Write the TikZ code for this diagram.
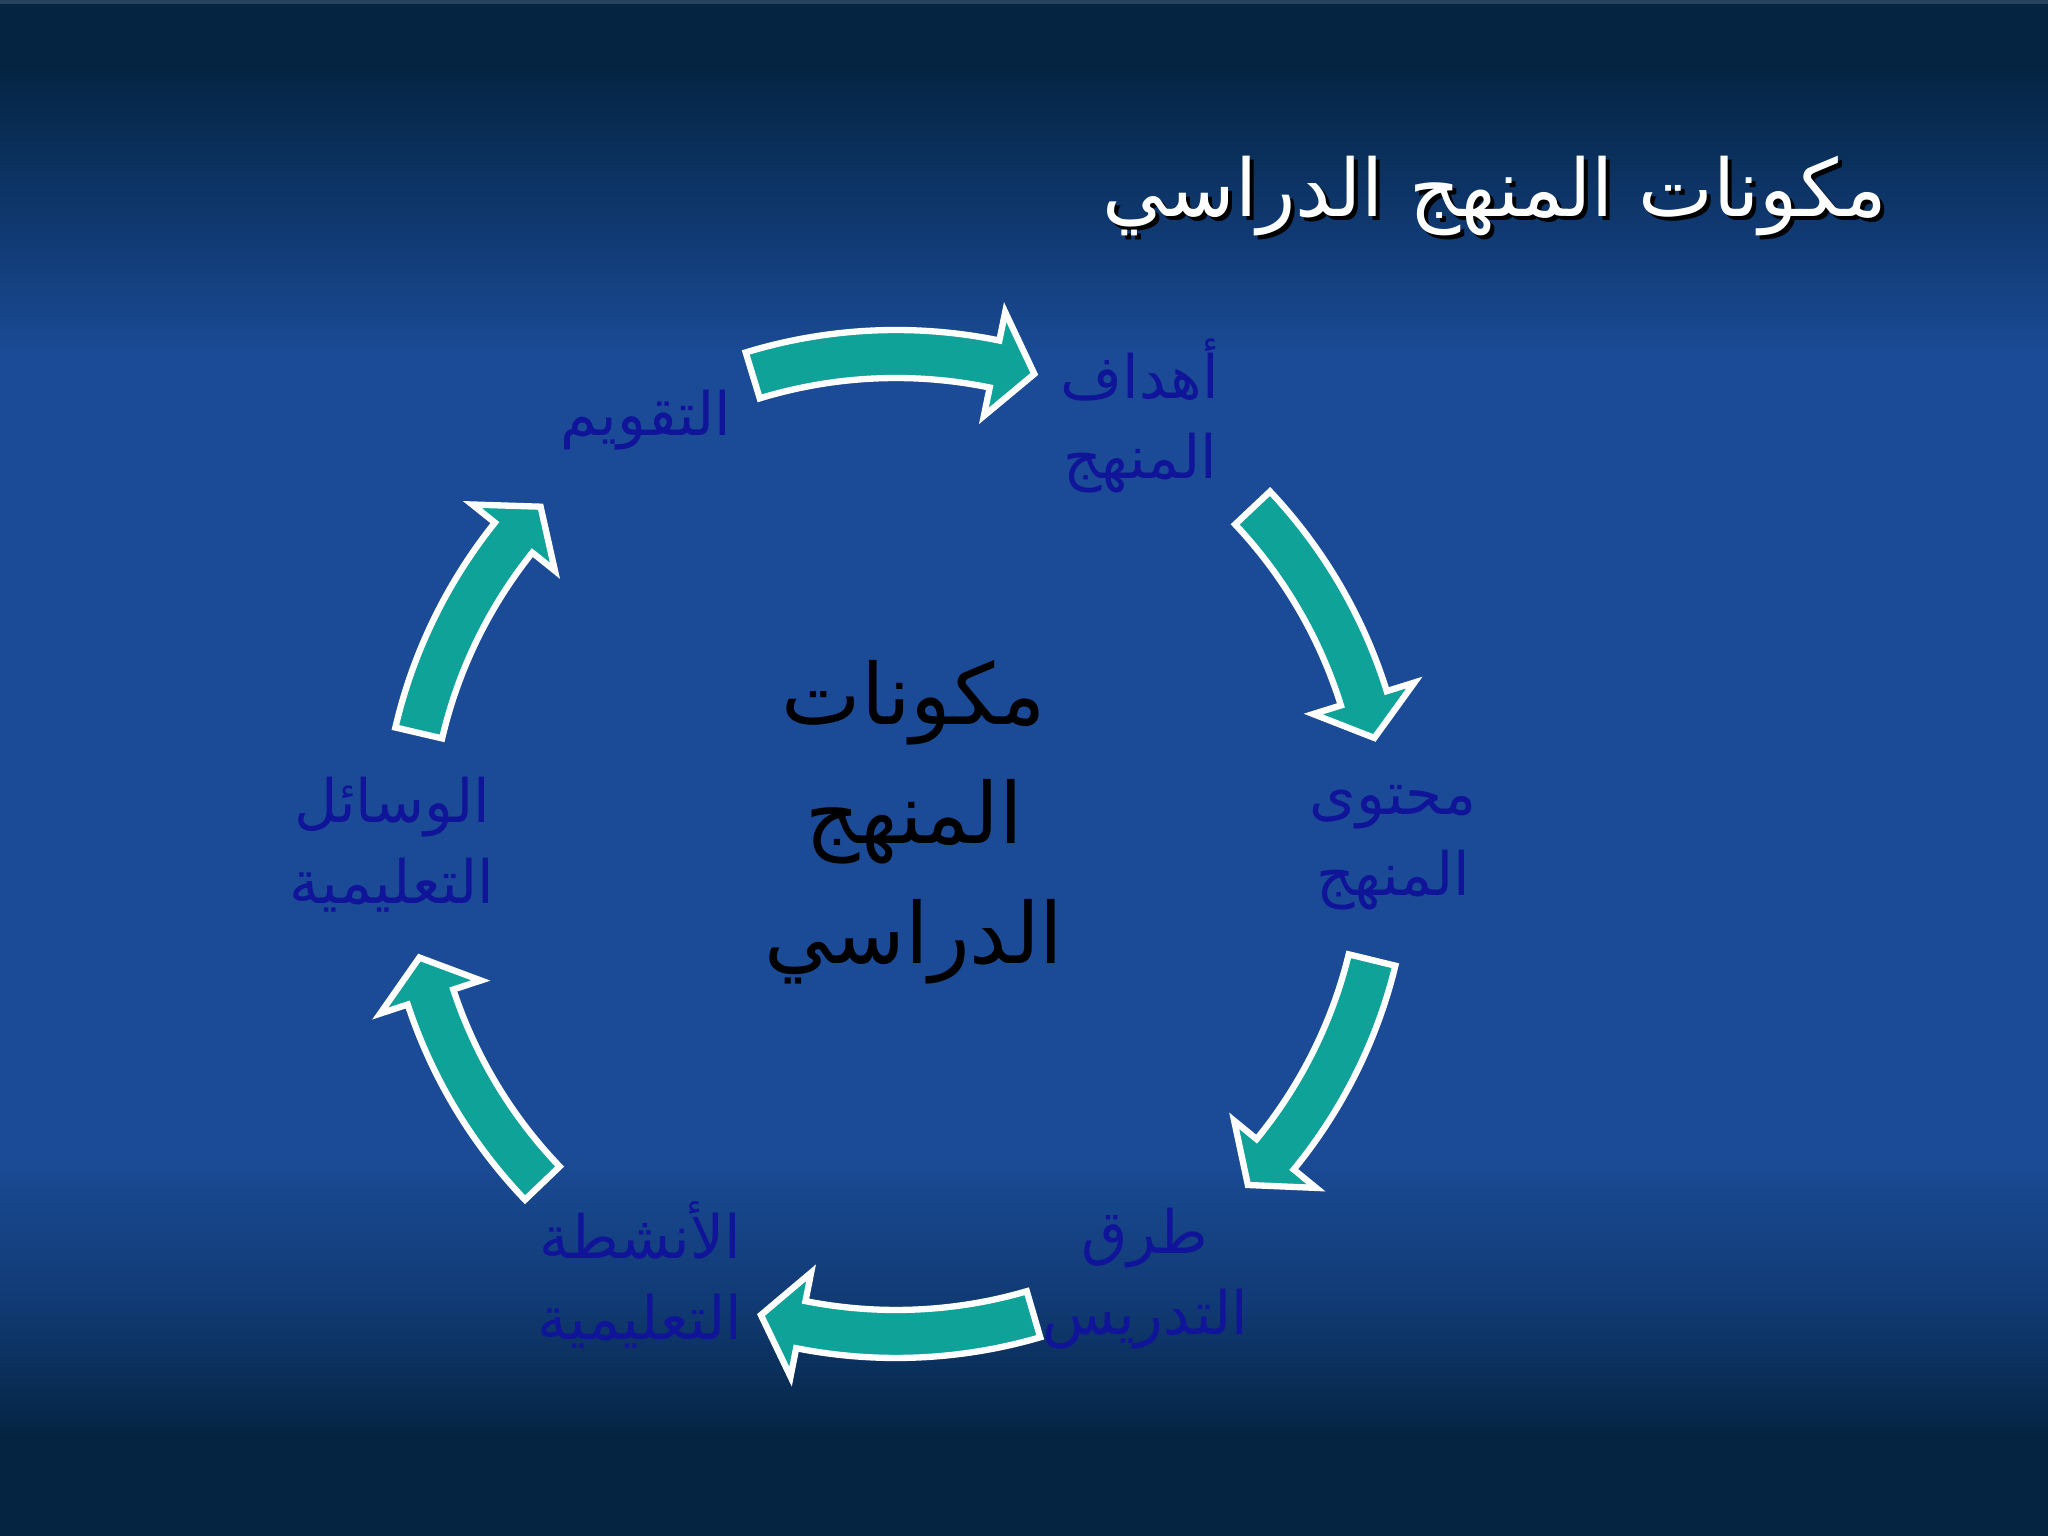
\documentclass[tikz,border=0pt]{standalone}
\usepackage{fontspec}
\newfontfamily\arabicfont[Script=Arabic]{DejaVu Sans}
\TeXXeTstate=1
\usetikzlibrary{calc}
\definecolor{bgdark}{RGB}{4,36,66}
\definecolor{bgmid}{RGB}{16,58,115}
\definecolor{bgblue}{RGB}{27,75,150}
\definecolor{arrowteal}{RGB}{14,162,152}
\definecolor{lblue}{RGB}{16,20,152}
\newcommand\cyclearrow[2]{%
  \pgfmathsetmacro\hbase{#2+4.8}%
  \draw[curarrow] (#1:514) arc[start angle=#1, end angle=\hbase, radius=514]
    -- (\hbase:543) -- (#2:490) -- (\hbase:437) -- (\hbase:466)
    arc[start angle=\hbase, end angle=#1, radius=466] -- cycle;}
\begin{document}
\begin{tikzpicture}[x=0.01cm,y=0.01cm,
  curarrow/.style={fill=arrowteal, draw=white, line width=1.8pt, line join=miter},
  lbl/.style={font=\arabicfont\fontsize{17}{23}\selectfont, text=lblue, align=center, inner sep=0pt},
  midtext/.style={font=\arabicfont\fontsize{24}{34}\selectfont, text=black, align=center, inner sep=0pt},
  titletext/.style={font=\arabicfont\fontsize{22.6}{28}\selectfont, inner sep=0pt}]
\useasboundingbox (0,0) rectangle (2048,1536);
% background
\fill[bgdark] (0,0) rectangle (2048,1536);
\shade[top color=bgdark, bottom color=bgmid] (0,1300) rectangle (2048,1470);
\shade[top color=bgmid, bottom color=bgblue] (0,1180) rectangle (2048,1300);
\fill[bgblue] (0,380) rectangle (2048,1180);
\shade[top color=bgblue, bottom color=bgmid] (0,230) rectangle (2048,380);
\shade[top color=bgmid, bottom color=bgdark] (0,100) rectangle (2048,230);
\fill[bgdark!80!white!70!bgdark] (0,1532) rectangle (2048,1536);
% title
\node[titletext, text=black] (titleshadow) at (1499,1336) {\beginR مكونات المنهج الدراسي\endR};
\node[titletext, text=white] (title) at (1495,1340) {\beginR مكونات المنهج الدراسي\endR};
% centre
\coordinate (C) at (896,692);
\node[midtext] (centre) at (914,714) {\beginR مكونات\endR\\\beginR المنهج\endR\\\beginR الدراسي\endR};
% labels
\node[lbl] (l1) at (1140,1120) {\beginR أهداف\endR\\\beginR المنهج\endR};
\node[lbl] (l2) at (1393,688) {\beginR محتوى\endR\\\beginR المنهج\endR};
\node[lbl] (l3) at (1145,257) {\beginR طرق\endR\\\beginR التدريس\endR};
\node[lbl] (l4) at (640,261) {\beginR الأنشطة\endR\\\beginR التعليمية\endR};
\node[lbl] (l5) at (392,691) {\beginR الوسائل\endR\\\beginR التعليمية\endR};
\node[lbl] (l6) at (646,1116) {\beginR التقويم\endR};
% arrows
\begin{scope}[shift={(C)}]
\cyclearrow{107}{73.6}
\cyclearrow{43.3}{12.5}
\cyclearrow{-13.7}{-44.1}
\cyclearrow{-73.7}{-106}
\cyclearrow{-136.2}{-166.6}
\cyclearrow{166.9}{136.5}
\end{scope}
\end{tikzpicture}
\end{document}
